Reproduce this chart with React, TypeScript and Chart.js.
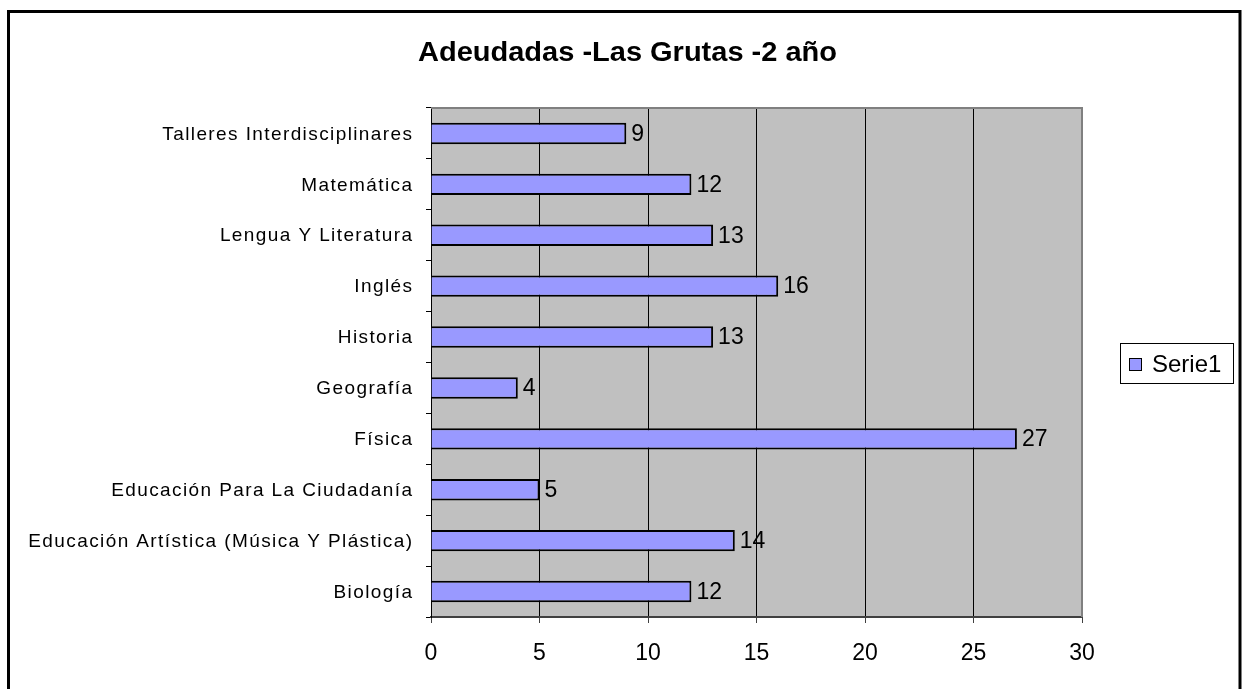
import React, { useEffect, useRef } from "react";
import { Chart, registerables } from "chart.js";

Chart.register(...registerables);

const chartTitle = "Adeudadas -Las Grutas -2 año";
const seriesName = "Serie1";
const categories = [
  "Talleres Interdisciplinares",
  "Matemática",
  "Lengua Y Literatura",
  "Inglés",
  "Historia",
  "Geografía",
  "Física",
  "Educación Para La Ciudadanía",
  "Educación Artística (Música Y Plástica)",
  "Biología",
];
const values = [9, 12, 13, 16, 13, 4, 27, 5, 14, 12];
const xMin = 0;
const xMax = 30;
const xStep = 5;

const FONT = "'Liberation Sans', Arial, sans-serif";

const decorPlugin = {
  id: "decor",
  beforeDraw(chart: any) {
    const { ctx, chartArea } = chart;
    ctx.save();
    ctx.fillStyle = "#ffffff";
    ctx.fillRect(0, 0, chart.width, chart.height);
    ctx.fillStyle = "#C0C0C0";
    ctx.fillRect(chartArea.left, chartArea.top, chartArea.right - chartArea.left, chartArea.bottom - chartArea.top);
    ctx.restore();
  },
  afterDraw(chart: any) {
    const { ctx, chartArea } = chart;
    ctx.save();
    // plot border top/right
    ctx.strokeStyle = "#808080";
    ctx.lineWidth = 2;
    ctx.beginPath();
    ctx.moveTo(chartArea.left, chartArea.top);
    ctx.lineTo(chartArea.right, chartArea.top);
    ctx.lineTo(chartArea.right, chartArea.bottom);
    ctx.stroke();

    // category labels (slightly widened letter spacing as in the original)
    const yScale = chart.scales.y;
    ctx.fillStyle = "#000";
    ctx.font = `19px ${FONT}`;
    ctx.textBaseline = "middle";
    ctx.textAlign = "left";
    const spacing = 1.4;
    (ctx as any).letterSpacing = `${spacing}px`;
    categories.forEach((c, i) => {
      const y = yScale.getPixelForTick(i);
      const w = ctx.measureText(c).width;
      ctx.fillText(c, 412 - w + spacing, y + 1);
    });
    (ctx as any).letterSpacing = "0px";

    // data labels
    const meta = chart.getDatasetMeta(0);
    ctx.font = `23px ${FONT}`;
    meta.data.forEach((el: any, i: number) => {
      ctx.fillText(String(values[i]), el.x + 5, el.y + 1);
    });

    // title
    ctx.font = `bold 28px ${FONT}`;
    ctx.textBaseline = "alphabetic";
    const w = ctx.measureText(chartTitle).width;
    const target = 419;
    ctx.save();
    ctx.translate(418, 61);
    ctx.scale(target / w, 1);
    ctx.fillText(chartTitle, 0, 0);
    ctx.restore();

    // legend
    ctx.strokeStyle = "#000";
    ctx.lineWidth = 1;
    ctx.strokeRect(1120.5, 343.5, 113, 40);
    ctx.fillStyle = "#9999FF";
    ctx.fillRect(1129, 358, 12, 12);
    ctx.strokeRect(1129.5, 358.5, 12, 12);
    ctx.fillStyle = "#000";
    ctx.font = `24px ${FONT}`;
    ctx.textBaseline = "middle";
    ctx.fillText(seriesName, 1152, 365);

    // outer border
    ctx.lineWidth = 3;
    ctx.strokeStyle = "#000";
    ctx.strokeRect(8.5, 11.5, 1231.5, 700);
    ctx.restore();
  },
};

export default function App() {
  const ref = useRef<HTMLCanvasElement>(null);
  useEffect(() => {
    const chart = new Chart(ref.current as HTMLCanvasElement, {
      type: "bar",
      data: {
        labels: categories,
        datasets: [
          {
            label: seriesName,
            data: values,
            backgroundColor: "#9999FF",
            borderColor: "#000000",
            borderWidth: 2,
            categoryPercentage: 1,
            barPercentage: 0.42,
          },
        ],
      },
      options: {
        indexAxis: "y",
        animation: false,
        responsive: false,
        layout: { padding: { top: 108, right: 166, left: 0, bottom: 0 } },
        plugins: {
          legend: { display: false },
          title: { display: false },
          tooltip: { enabled: false },
        },
        scales: {
          x: {
            min: xMin,
            max: xMax,
            ticks: {
              stepSize: xStep,
              color: "#000",
              font: { family: FONT, size: 23 },
              padding: 17,
            },
            grid: {
              color: "#000",
              lineWidth: 1,
              tickLength: 6,
              tickColor: "#404040",
            },
            border: { color: "#404040", width: 2 },
            afterFit(scale: any) {
              scale.height = 72;
            },
          },
          y: {
            ticks: {
              display: false,
              autoSkip: false,
            },
            grid: {
              offset: true,
              drawOnChartArea: false,
              tickLength: 5,
              color: "#000",
            },
            border: { color: "#000", width: 1 },
            afterFit(scale: any) {
              scale.width = 431;
            },
          },
        },
      },
      plugins: [decorPlugin],
    });
    return () => chart.destroy();
  }, []);
  return (
    <div style={{ position: "fixed", left: 0, top: 0, width: 1248, height: 689 }}>
      <canvas ref={ref} width={1248} height={689} style={{ width: 1248, height: 689 }} />
    </div>
  );
}
